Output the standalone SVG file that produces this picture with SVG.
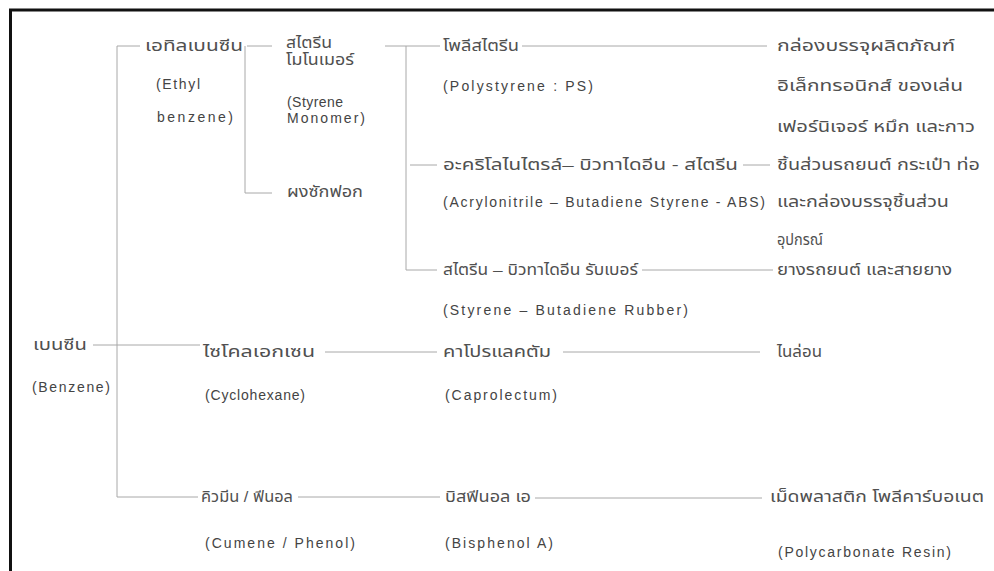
<svg xmlns="http://www.w3.org/2000/svg" width="994" height="571" viewBox="0 0 994 571">
<style>
.th{font-family:"Liberation Sans","Noto Sans Thai","Noto Sans",sans-serif;font-size:15px;fill:#505050}
.en{font-family:"Liberation Sans",Arial,sans-serif;font-size:14px;fill:#444}
.ln{stroke:#a8a8a8;stroke-width:1;fill:none}
</style>
<rect width="994" height="571" fill="#fff"/>
<path d="M10.5 571 V10 H994" stroke="#111" stroke-width="3" fill="none"/>
<g id="connectors" class="ln">
<path d="M117 497 V46 H140"/>
<path d="M247 46 H272"/>
<path d="M245 46 V193 H272"/>
<path d="M385 46 H440"/>
<path d="M406 46 V270 H437"/>
<path d="M410 165 H437"/>
<path d="M522 46 H767"/>
<path d="M743 165 H770"/>
<path d="M642 270 H773"/>
<path d="M93 345 H200"/>
<path d="M325 352 H437"/>
<path d="M563 352 H760"/>
<path d="M117 497 H198"/>
<path d="M298 497 H440"/>
<path d="M535 498 H762"/>
</g>
<g id="benzene"><text class="th" x="33" y="350" textLength="54" lengthAdjust="spacingAndGlyphs">เบนซีน</text><text class="en" x="32" y="392" textLength="78">(Benzene)</text></g>
<g id="ethylbenzene"><text class="th" x="145" y="51" textLength="98" lengthAdjust="spacingAndGlyphs">เอทิลเบนซีน</text><text class="en" x="156" y="89" textLength="44">(Ethyl</text><text class="en" x="157" y="122" textLength="76">benzene)</text></g>
<g id="styrene-monomer"><text class="th" x="286" y="48" textLength="46" lengthAdjust="spacingAndGlyphs">สไตรีน</text><text class="th" x="286" y="65" textLength="68" lengthAdjust="spacingAndGlyphs">โมโนเมอร์</text><text class="en" x="287" y="107" textLength="56">(Styrene</text><text class="en" x="287" y="123" textLength="78">Monomer)</text></g>
<g id="detergent"><text class="th" x="287" y="197" textLength="76" lengthAdjust="spacingAndGlyphs">ผงซักฟอก</text></g>
<g id="polystyrene"><text class="th" x="443" y="51" textLength="76" lengthAdjust="spacingAndGlyphs">โพลีสไตรีน</text><text class="en" x="443" y="91" textLength="150">(Polystyrene : PS)</text></g>
<g id="ps-uses"><text class="th" x="777" y="51" textLength="178" lengthAdjust="spacingAndGlyphs">กล่องบรรจุผลิตภัณฑ์</text><text class="th" x="777" y="91" textLength="186" lengthAdjust="spacingAndGlyphs">อิเล็กทรอนิกส์ ของเล่น</text><text class="th" x="777" y="132" textLength="198" lengthAdjust="spacingAndGlyphs">เฟอร์นิเจอร์ หมึก และกาว</text></g>
<g id="abs"><text class="th" x="443" y="170" textLength="295" lengthAdjust="spacingAndGlyphs">อะคริโลไนไตรล์– บิวทาไดอีน - สไตรีน</text><text class="en" x="443" y="207" textLength="322">(Acrylonitrile – Butadiene Styrene  - ABS)</text></g>
<g id="abs-uses"><text class="th" x="777" y="170" textLength="203" lengthAdjust="spacingAndGlyphs">ชิ้นส่วนรถยนต์ กระเป๋า ท่อ</text><text class="th" x="777" y="207" textLength="172" lengthAdjust="spacingAndGlyphs">และกล่องบรรจุชิ้นส่วน</text><text class="th" x="777" y="245" textLength="46" lengthAdjust="spacingAndGlyphs">อุปกรณ์</text></g>
<g id="sbr"><text class="th" x="443" y="275" textLength="195" lengthAdjust="spacingAndGlyphs">สไตรีน – บิวทาไดอีน รับเบอร์</text><text class="en" x="443" y="315" textLength="245">(Styrene –  Butadiene Rubber)</text></g>
<g id="sbr-uses"><text class="th" x="777" y="275" textLength="175" lengthAdjust="spacingAndGlyphs">ยางรถยนต์ และสายยาง</text></g>
<g id="cyclohexane"><text class="th" x="203" y="357" textLength="112" lengthAdjust="spacingAndGlyphs">ไซโคลเอกเซน</text><text class="en" x="205" y="400" textLength="100">(Cyclohexane)</text></g>
<g id="caprolactam"><text class="th" x="443" y="357" textLength="108" lengthAdjust="spacingAndGlyphs">คาโปรแลคตัม</text><text class="en" x="445" y="400" textLength="112">(Caprolectum)</text></g>
<g id="nylon"><text class="th" x="777" y="357" textLength="45" lengthAdjust="spacingAndGlyphs">ไนล่อน</text></g>
<g id="cumene"><text class="th" x="201" y="502" textLength="92" lengthAdjust="spacingAndGlyphs">คิวมีน / ฟีนอล</text><text class="en" x="205" y="548" textLength="150">(Cumene / Phenol)</text></g>
<g id="bisphenol"><text class="th" x="445" y="502" textLength="86" lengthAdjust="spacingAndGlyphs">บิสฟีนอล เอ</text><text class="en" x="445" y="548" textLength="108">(Bisphenol A)</text></g>
<g id="polycarbonate"><text class="th" x="770" y="502" textLength="214" lengthAdjust="spacingAndGlyphs">เม็ดพลาสติก โพลีคาร์บอเนต</text><text class="en" x="778" y="557" textLength="173">(Polycarbonate Resin)</text></g>
</svg>
